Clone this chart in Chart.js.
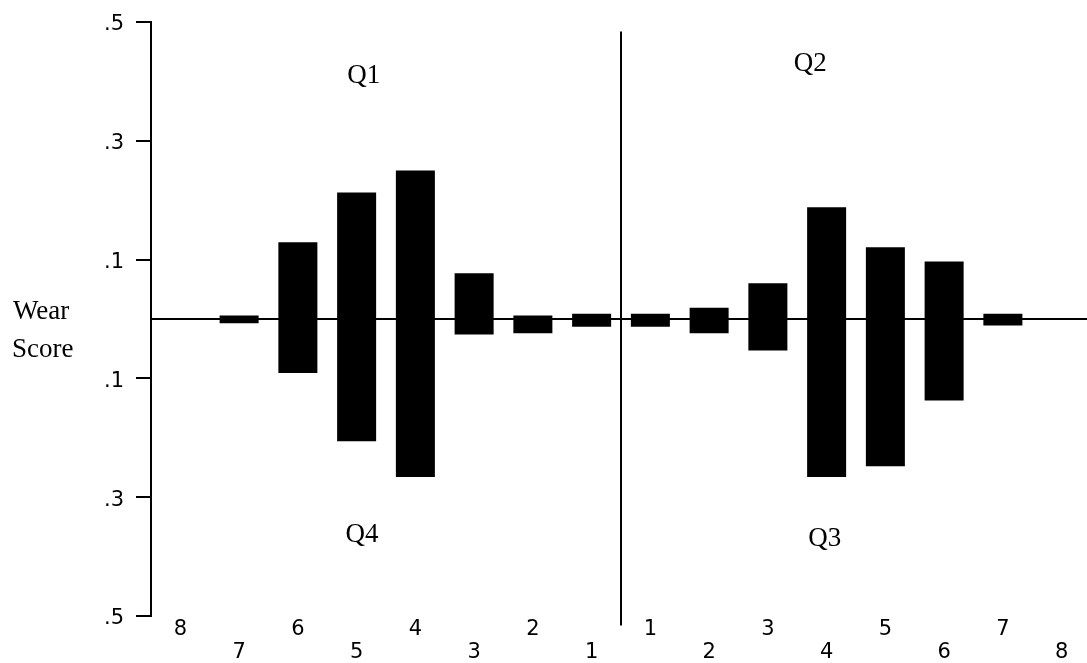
<!DOCTYPE html>
<html>
<head>
<meta charset="utf-8">
<title>Wear Score by quadrant</title>
<script src="https://cdn.jsdelivr.net/npm/chart.js@4/dist/chart.umd.min.js"></script>
<style>
  html, body { margin: 0; padding: 0; background: #fff; overflow: hidden; }
  #wrap { width: 1091px; height: 663px; }
</style>
</head>
<body>
<div id="wrap"><canvas id="chart" width="1091" height="663"></canvas></div>
<script>
// Positions along the track: left half counts 8 -> 1, right half counts 1 -> 8
const positions = ['8', '7', '6', '5', '4', '3', '2', '1', '1', '2', '3', '4', '5', '6', '7', '8'];

// Wear score range at each position (lower end, upper end); null = no reading
const scoreLow  = [null, -0.007, -0.091, -0.206, -0.266, -0.026, -0.024, -0.013,
                   -0.013, -0.024, -0.053, -0.266, -0.248, -0.137, -0.011, null];
const scoreHigh = [null,  0.006,  0.129,  0.213,  0.250,  0.077,  0.006,  0.009,
                    0.009,  0.019,  0.060,  0.188,  0.121,  0.097,  0.009, null];

// Vertical axis ticks and the labels printed beside them
const yTickValues = [0.5, 0.3, 0.1, 0, -0.1, -0.3, -0.5];
const yTickLabels = ['.5', '.3', '.1', '', '.1', '.3', '.5'];

// Quadrant names
const quadrantNames = ['Q1', 'Q2', 'Q4', 'Q3'];

const ranges = scoreLow.map((lo, i) => (lo === null ? null : [lo, scoreHigh[i]]));

const SERIF = '"Liberation Serif", "Times New Roman", serif';
const SANS = '"DejaVu Sans", sans-serif';

// Where the quadrant names sit, in axis units (category index, score)
const quadrantAnchors = [
  { x: 3.12, y: 0.41 },
  { x: 10.72, y: 0.43 },
  { x: 3.09, y: -0.363 },
  { x: 10.97, y: -0.371 }
];

const decorations = {
  id: 'decorations',
  afterDatasetsDraw(chart) {
    const { ctx, scales: { x, y } } = chart;
    ctx.save();

    // divider between the two halves of the track
    const dx = Math.round(x.getPixelForValue(7.5));
    ctx.strokeStyle = '#000';
    ctx.lineWidth = 2;
    ctx.beginPath();
    ctx.moveTo(dx, y.getPixelForValue(0.484));
    ctx.lineTo(dx, y.getPixelForValue(-0.516));
    ctx.stroke();

    // quadrant names
    ctx.fillStyle = '#000';
    ctx.font = '27px ' + SERIF;
    ctx.textAlign = 'center';
    ctx.textBaseline = 'middle';
    quadrantNames.forEach((name, i) => {
      const a = quadrantAnchors[i];
      ctx.fillText(name, x.getPixelForValue(a.x), y.getPixelForValue(a.y));
    });

    // axis title, two lines to the left of the axis
    ctx.textAlign = 'left';
    ctx.textBaseline = 'alphabetic';
    ctx.fillText('Wear', 13, y.getPixelForValue(0));
    ctx.fillText('Score', 12, y.getPixelForValue(-0.064));
    ctx.restore();
  }
};

new Chart(document.getElementById('chart'), {
  type: 'bar',
  data: {
    labels: positions,
    datasets: [{
      data: ranges,
      backgroundColor: '#000',
      borderWidth: 0,
      barPercentage: 0.664,
      categoryPercentage: 1.0
    }]
  },
  options: {
    responsive: false,
    animation: false,
    devicePixelRatio: 1,
    layout: { padding: { top: 22, left: 0, right: 0, bottom: 0 } },
    plugins: {
      legend: { display: false },
      tooltip: { enabled: false }
    },
    scales: {
      x: {
        type: 'category',
        offset: true,
        grid: { display: false, drawTicks: false },
        border: { display: false },
        ticks: {
          color: '#000',
          font: { family: SANS, size: 21, lineHeight: 1.05 },
          padding: 3,
          autoSkip: false,
          maxRotation: 0,
          minRotation: 0,
          callback: (v, i) => (i % 2 === 0 ? [positions[i], ''] : ['', positions[i]])
        },
        afterFit: (s) => { s.height = 47; }
      },
      y: {
        type: 'linear',
        min: -0.5,
        max: 0.5,
        afterBuildTicks: (s) => { s.ticks = yTickValues.map(v => ({ value: v })); },
        afterFit: (s) => { s.width = 151; },
        border: { display: true, color: '#000', width: 2 },
        grid: {
          drawOnChartArea: true,
          drawTicks: true,
          tickLength: 15,
          lineWidth: 2,
          color: (c) => (c.tick && c.tick.value === 0 ? '#000' : 'rgba(0,0,0,0)'),
          tickColor: (c) => (c.tick && c.tick.value === 0 ? 'rgba(0,0,0,0)' : '#000')
        },
        ticks: {
          color: '#000',
          font: { family: SANS, size: 21, lineHeight: 0.8 },
          padding: 12,
          labelOffset: 3,
          callback: (v) => {
            const k = yTickValues.findIndex(t => Math.abs(t - v) < 1e-9);
            return k >= 0 ? yTickLabels[k] : '';
          }
        }
      }
    }
  },
  plugins: [decorations]
});
</script>
</body>
</html>
